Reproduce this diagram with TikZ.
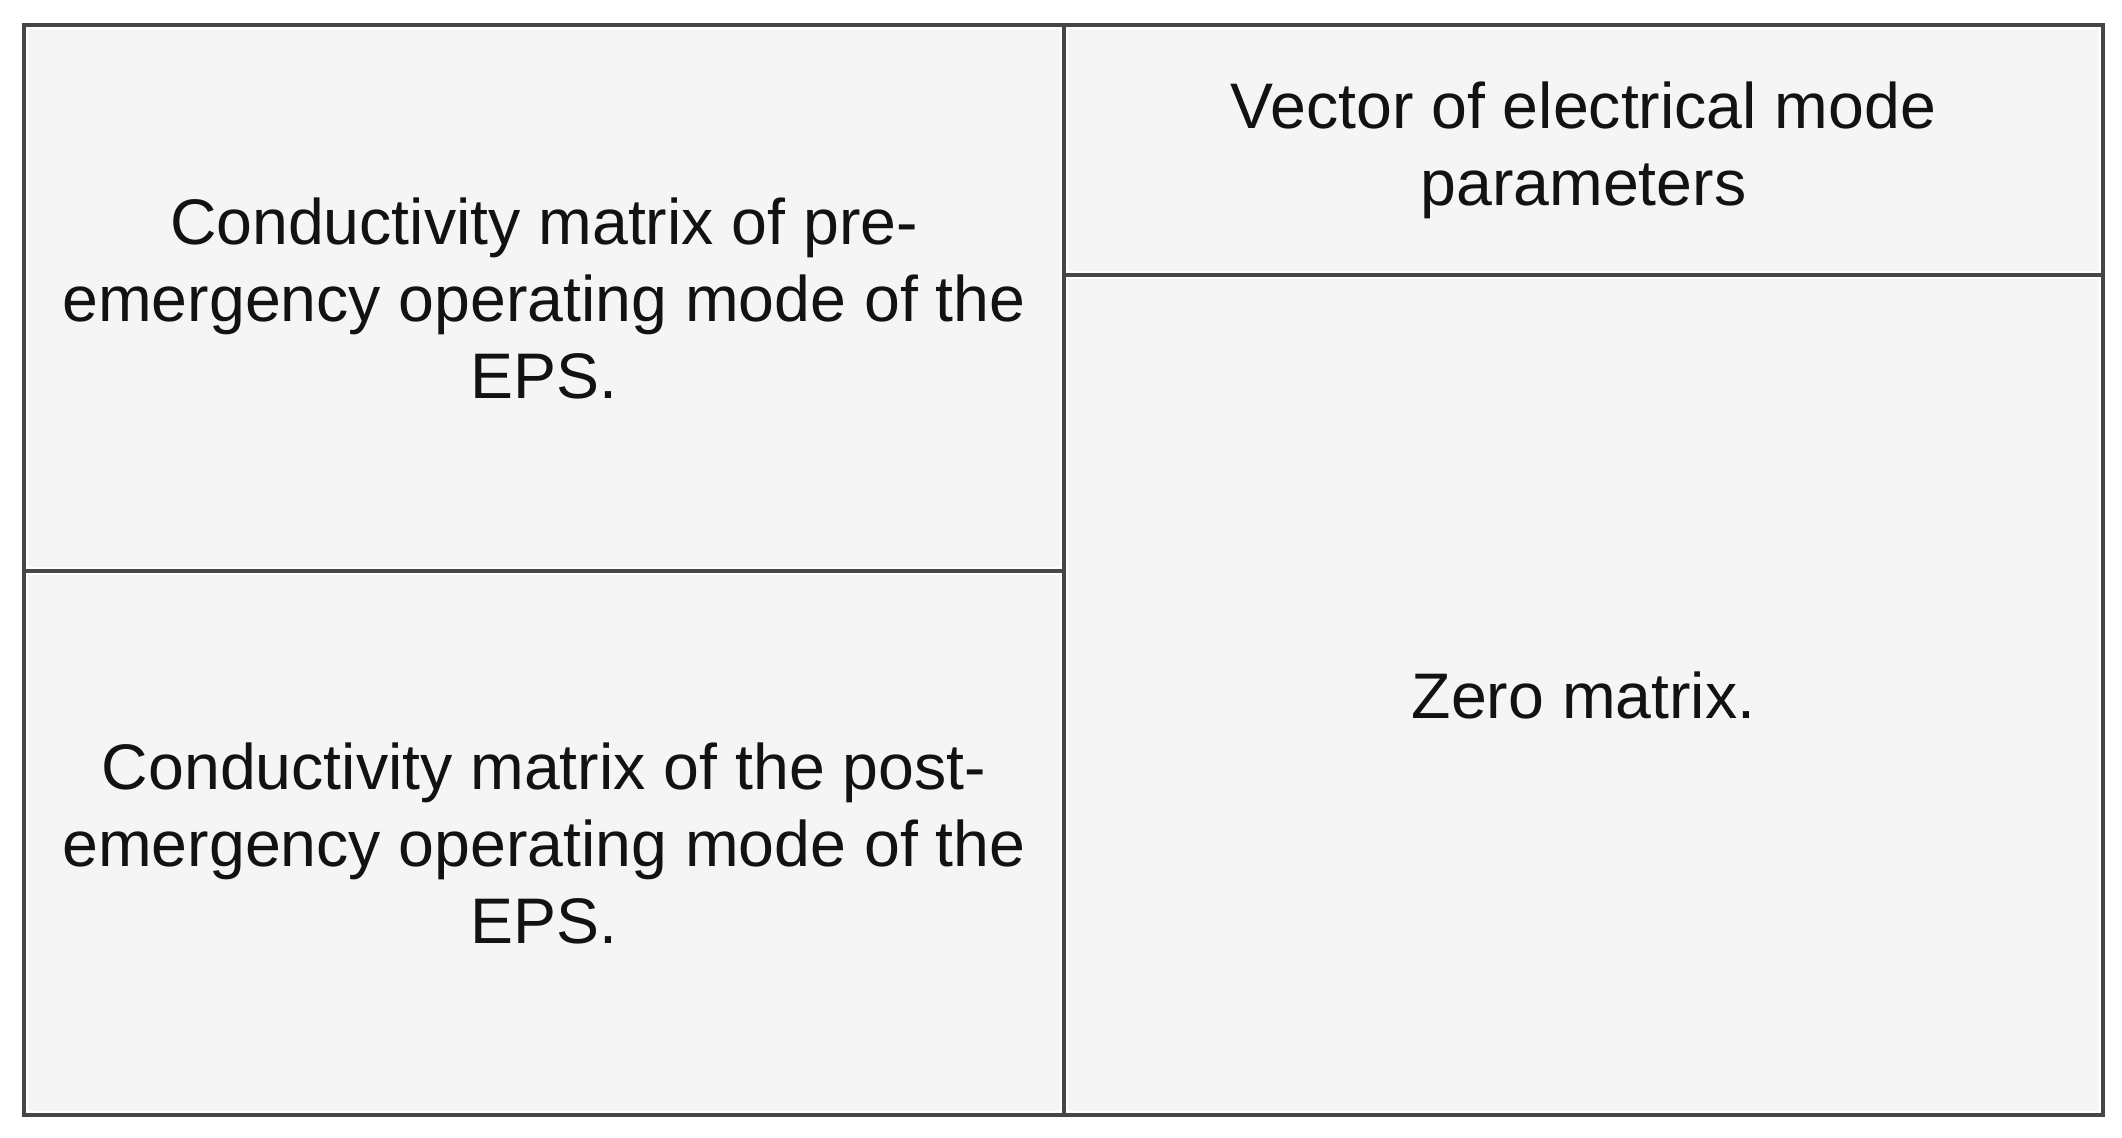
\documentclass[tikz,border=0pt]{standalone}
\usepackage{fontspec}
\setmainfont{Liberation Sans}
\definecolor{linec}{HTML}{464646}
\definecolor{cellc}{HTML}{F5F5F5}
\tikzset{
  cell/.style={rectangle, fill=cellc, draw=none, inner sep=0pt, align=center,
    font=\fontsize{32.2}{38.5}\selectfont, text=black!93},
  gridline/.style={draw=linec, line width=2pt}
}
\begin{document}
\begin{tikzpicture}[x=0.5pt,y=-0.5pt]
\fill[white] (0,0) rectangle (2122,1138);
\useasboundingbox (0,0) rectangle (2122,1138);
\node[cell, minimum width=516pt, minimum height=269pt] (pre) at (544,298)
  {Conductivity matrix of pre-\\emergency operating mode of the\\EPS.};
\node[cell, minimum width=516pt, minimum height=268pt] (post) at (544,843)
  {Conductivity matrix of the post-\\emergency operating mode of the\\EPS.};
\node[cell, minimum width=515.5pt, minimum height=121pt] (vec) at (1583.5,150)
  {Vector of electrical mode\\parameters};
\node[cell, minimum width=515.5pt, minimum height=416pt] (zero) at (1583.5,695)
  {Zero matrix.};
\draw[gridline] (24,25) rectangle (2103,1115);
\draw[gridline] (1064,25) -- (1064,1115);
\draw[gridline] (24,571) -- (1064,571);
\draw[gridline] (1064,275) -- (2103,275);
\end{tikzpicture}
\end{document}
